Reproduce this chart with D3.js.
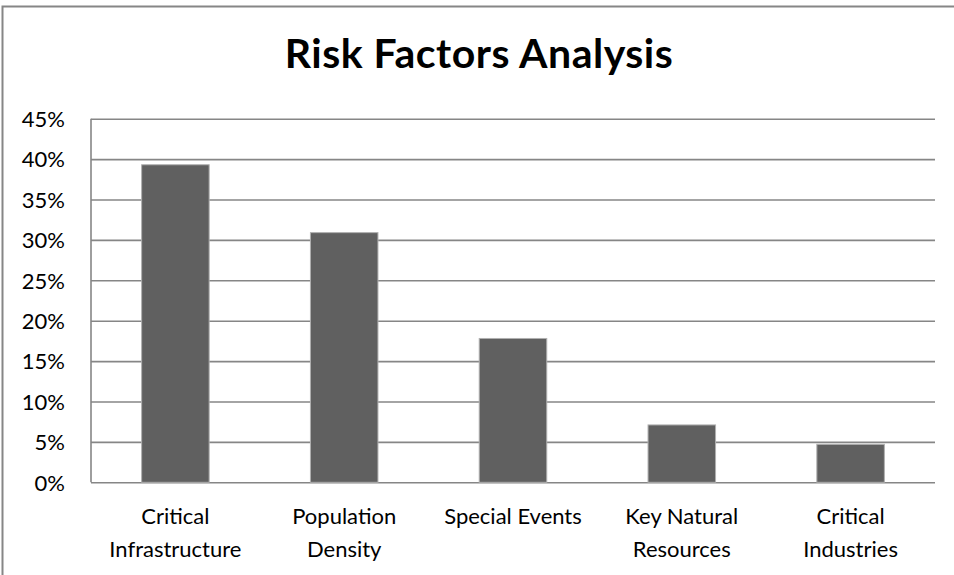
<!DOCTYPE html>
<html><head><meta charset="utf-8">
<script src="https://cdn.jsdelivr.net/npm/d3@7"></script>
<style>body{margin:0;background:#fff}svg{display:block}</style>
</head><body>
<svg id="chart" width="954" height="575"></svg>
<script>
const categories = [["Critical","Infrastructure"],["Population","Density"],["Special Events"],["Key Natural","Resources"],["Critical","Industries"]];
const values = [0.393, 0.309, 0.178, 0.071, 0.047];
const yTicks = [0,0.05,0.10,0.15,0.20,0.25,0.30,0.35,0.40,0.45];
const title = "Risk Factors Analysis";

const svg = d3.select("#chart");
const font = "Lato, 'Open Sans', sans-serif";
const m = {left:91, right:935, top:118.7, bottom:482.3};

svg.append("rect").attr("x",2.5).attr("y",6.5).attr("width",1000).attr("height",1000)
  .attr("fill","none").attr("stroke","#868686").attr("stroke-width",2);

const x = d3.scaleBand().domain(d3.range(categories.length)).range([m.left,m.right]).padding(0);
const y = d3.scaleLinear().domain([0,0.45]).range([m.bottom,m.top]);

const yAxis = d3.axisLeft(y).tickValues(yTicks).tickFormat(d3.format(".0%")).tickSize(-(m.right-m.left)).tickPadding(26);
const gy = svg.append("g").attr("transform",`translate(${m.left},0)`).call(yAxis);
gy.select(".domain").remove();
gy.selectAll(".tick line").attr("stroke","#868686").attr("stroke-width",1.6);
gy.selectAll(".tick text").attr("fill","#000").style("font-family",font).style("font-size","22px").attr("dy","0.35em");

svg.append("line").attr("x1",m.left).attr("x2",m.left).attr("y1",m.top).attr("y2",m.bottom).attr("stroke","#868686").attr("stroke-width",1.6);

const bw = x.bandwidth()*0.4;
svg.append("g").selectAll("rect").data(values).join("rect")
  .attr("x",(d,i)=>x(i)+x.bandwidth()/2-bw/2)
  .attr("width",bw)
  .attr("y",d=>y(d))
  .attr("height",d=>y(0)-y(d))
  .attr("fill","#606060").attr("stroke","#b0b0b0").attr("stroke-width",1);

const gx = svg.append("g");
categories.forEach((lines,i)=>{
  const t = gx.append("text").attr("x",x(i)+x.bandwidth()/2).attr("y",524)
    .attr("text-anchor","middle").style("font-family",font).style("font-size","22px").attr("fill","#000");
  lines.forEach((l,j)=>t.append("tspan").attr("x",x(i)+x.bandwidth()/2).attr("dy",j?33:0).text(l));
});

svg.append("text").attr("x",479).attr("y",68.3).attr("text-anchor","middle")
  .style("font-family",font).style("font-weight","bold").style("font-size","41px").style("letter-spacing","0.5px").attr("fill","#000").text(title);
</script>
</body></html>
